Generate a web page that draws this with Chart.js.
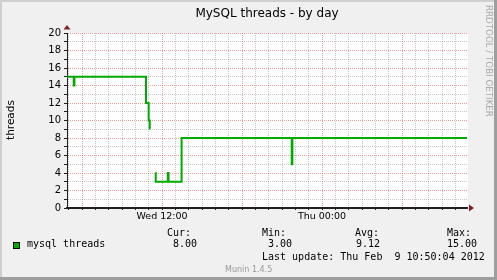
<!DOCTYPE html>
<html>
<head>
<meta charset="utf-8">
<script src="https://cdn.jsdelivr.net/npm/chart.js@4.4.1/dist/chart.umd.min.js"></script>
<style>
  html, body { margin: 0; padding: 0; background: #f0f0f0; }
  canvas { display: block; }
</style>
</head>
<body>
<canvas id="munin" width="497" height="280"></canvas>
<script>
// hours since Wed 00:00, step values (null = no data)
const timeHours = [4.875, 5.38, 5.43, 10.80, 11.00, 11.08, 11.13, 11.25, 11.50, 11.53, 12.44, 12.49, 13.47, 21.73, 21.78, 34.875]
const threads   = [15,    14,   15,   12,    10,    9.1,   9.1,   null,  4,     3,     4,     3,     8,     5,     8,     8]

const xLabelHours = [12, 24]
const xLabelTexts = ['Wed 12:00', 'Thu 00:00']
const yLabels = [0, 2, 4, 6, 8, 10, 12, 14, 16, 18, 20]

const seriesName = 'mysql threads'
const statNames = ['Cur:', 'Min:', 'Avg:', 'Max:']
const statValues = ['8.00', '3.00', '9.12', '15.00']
const lastUpdate = 'Last update: Thu Feb  9 10:50:04 2012'

const lineColor = '#00aa00'
const gridColor = 'rgba(143,143,143,0.5)'
const mgridColor = 'rgba(224,80,80,0.55)'
const arrowColor = 'rgb(128,32,32)'

const points = timeHours.map((h, i) => ({ x: h, y: threads[i] }))

const frame = {
    id: 'frame',
    beforeDraw(chart) {
        const c = chart.ctx
        const a = chart.chartArea
        c.save()
        c.fillStyle = '#f0f0f0'
        c.fillRect(0, 0, 497, 280)
        c.fillStyle = '#cfcfcf'
        c.fillRect(0, 0, 497, 2)
        c.fillRect(0, 0, 2, 280)
        c.fillStyle = '#9e9e9e'
        c.fillRect(494, 0, 3, 280)
        c.fillRect(0, 277, 497, 3)
        c.fillStyle = '#ffffff'
        c.fillRect(a.left, a.top, a.right - a.left + 1, a.bottom - a.top)
        c.restore()
    },
    afterDraw(chart) {
        const c = chart.ctx
        const a = chart.chartArea
        c.save()
        // arrows
        c.fillStyle = arrowColor
        c.beginPath()
        c.moveTo(a.left - 3.5, a.top - 3.5)
        c.lineTo(a.left + 3.5, a.top - 3.5)
        c.lineTo(a.left, a.top - 8)
        c.fill()
        c.beginPath()
        c.moveTo(a.right + 2, a.bottom - 3.5)
        c.lineTo(a.right + 2, a.bottom + 3.5)
        c.lineTo(a.right + 7, a.bottom)
        c.fill()

        c.fillStyle = '#000'
        c.textBaseline = 'alphabetic'
        c.textAlign = 'center'
        c.font = '12px "DejaVu Sans"'
        c.fillText('MySQL threads - by day', (a.left + a.right) / 2, 17)

        c.save()
        c.translate(14, 120)
        c.rotate(-Math.PI / 2)
        c.font = '10.5px "DejaVu Sans"'
        c.fillText('threads', 0, 0)
        c.restore()

        c.save()
        c.translate(486, 5)
        c.rotate(Math.PI / 2)
        c.textAlign = 'left'
        c.fillStyle = '#aaaaaa'
        c.font = '8.7px "DejaVu Sans"'
        c.fillText('RRDTOOL / TOBI OETIKER', 0, 0)
        c.restore()

        // legend
        c.fillStyle = lineColor
        c.fillRect(13, 242, 7, 7)
        c.strokeStyle = '#000'
        c.lineWidth = 1
        c.strokeRect(13.5, 242.5, 6, 6)

        c.textAlign = 'left'
        c.fillStyle = '#000'
        c.font = '10px "DejaVu Sans Mono"'
        c.fillText(seriesName, 27, 247)
        const nameX = [167, 262, 355, 447]
        const valX = [173, 268, 356, 447]
        statNames.forEach((s, i) => {
            c.fillText(s, nameX[i], 236)
            c.fillText(statValues[i], valX[i], 247)
        })
        c.fillText(lastUpdate, 262, 260)

        c.fillStyle = '#999999'
        c.font = '8px "DejaVu Sans"'
        c.fillText('Munin 1.4.5', 225, 272)
        c.restore()
    }
}

new Chart(document.getElementById('munin'), {
    type: 'line',
    data: {
        datasets: [{
            label: seriesName,
            data: points,
            borderColor: lineColor,
            borderWidth: 2,
            pointRadius: 0,
            stepped: 'before',
            spanGaps: false,
            fill: false
        }]
    },
    options: {
        responsive: false,
        animation: false,
        devicePixelRatio: 1,
        layout: { padding: { left: 0, top: 33, right: 30, bottom: 0 } },
        plugins: { legend: { display: false }, tooltip: { enabled: false } },
        scales: {
            x: {
                type: 'linear',
                min: timeHours[0],
                max: timeHours[timeHours.length - 1],
                afterBuildTicks: scale => {
                    const t = []
                    for (let h = 5; h <= 34; h++) t.push({ value: h })
                    scale.ticks = t
                },
                afterFit: scale => { scale.height = 72 },
                ticks: {
                    autoSkip: false,
                    maxRotation: 0,
                    padding: 1,
                    color: '#000',
                    font: { family: 'DejaVu Sans', size: 9.5 },
                    callback: v => {
                        const i = xLabelHours.indexOf(v)
                        return i >= 0 ? xLabelTexts[i] : ''
                    }
                },
                grid: {
                    color: ctx => ctx.tick && ctx.tick.value % 6 === 0 ? mgridColor : gridColor,
                    lineWidth: 1,
                    tickLength: 2,
                    tickColor: '#202020'
                },
                border: { color: '#202020', width: 2, dash: [1, 1] }
            },
            y: {
                min: 0,
                max: 20,
                ticks: {
                    stepSize: 1,
                    autoSkip: false,
                    padding: 3,
                    color: '#000',
                    font: { family: 'DejaVu Sans', size: 10 },
                    callback: v => yLabels.includes(v) ? String(v) : ''
                },
                afterFit: scale => { scale.width = 67 },
                grid: {
                    color: ctx => ctx.tick && ctx.tick.value % 2 === 0 ? mgridColor : gridColor,
                    lineWidth: 1,
                    tickLength: 3,
                    tickColor: '#202020'
                },
                border: { color: '#202020', width: 1, dash: [1, 1] }
            }
        }
    },
    plugins: [frame]
})
</script>
</body>
</html>
